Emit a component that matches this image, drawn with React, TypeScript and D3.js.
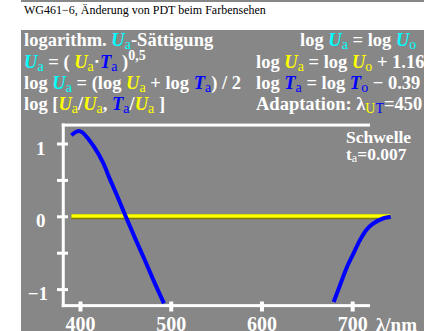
import React from "react";
import * as d3 from "d3";

// blue curve, short-wave branch
const lamLeft = [390, 394, 398, 402, 408, 415, 425, 433, 440, 450, 460, 470, 480, 492];
const valLeft = [1.12, 1.16, 1.18, 1.16, 1.08, 0.96, 0.74, 0.5, 0.3, 0, -0.29, -0.57, -0.86, -1.19];
// blue curve, long-wave branch
const lamRight = [679, 686, 693, 701, 708, 715, 723, 734, 742];
const valRight = [-1.17, -0.94, -0.71, -0.5, -0.32, -0.18, -0.09, -0.02, 0.0];
// yellow reference line
const lamYellow = [390, 742];
const valYellow = [0, 0];

const xTicks = [400, 500, 600, 700];
const yTicks = [-1, -0.5, 0, 0.5, 1];
const yLabels = [1, 0, -1];
const xFrame = [381, 719];
const yFrame = [1.26, -1.22];

const W = 424;
const H = 331;
const grey = "#878787";
const CY = "#00ffff";
const YE = "#ffff00";
const BL = "#0000ff";

const x = d3.scaleLinear().domain([400, 700]).range([80.5, 352.7]);
const y = d3.scaleLinear().domain([1, -1]).range([144, 289.6]);

const line = d3
  .line<[number, number]>()
  .x((d) => x(d[0]))
  .y((d) => y(d[1]))
  .curve(d3.curveMonotoneX);

const zip = (a: number[], b: number[]) => a.map((v, i) => [v, b[i]] as [number, number]);

const U = (c: string) => (
  <tspan fill={c} fontStyle="italic">U</tspan>
);
const T = () => (
  <tspan fill={BL} fontStyle="italic">T</tspan>
);
const sub = (t: string, c: string) => (
  <tspan fill={c} fontWeight="normal" fontSize="14" dy="3">{t}</tspan>
);

export default function App() {
  const fx0 = x(xFrame[0]);
  const fx1 = x(xFrame[1]);
  const fyTop = y(yFrame[0]);
  const fyBot = y(yFrame[1]);
  const font = "'Liberation Serif', 'Times New Roman', serif";
  return (
    <svg
      width={W}
      height={H}
      style={{ position: "absolute", left: 0, top: 0, display: "block" }}
      fontFamily={font}
    >
      <rect x={0} y={0} width={W} height={H} fill="#fff" />
      <rect x={21} y={0} width={W - 21} height={2} fill={grey} />
      <text x={24} y={14} fontSize="12" fill="#000">
        WG461−6, Änderung von PDT beim Farbensehen
      </text>
      <rect x={21} y={30} width={W - 21} height={H - 30} fill={grey} />

      {/* frame and ticks */}
      <g fill="#ffffff">
        <rect x={fx0 - 1.5} y={fyTop - 1.5} width={fx1 - fx0 + 1.5} height={3} />
        <rect x={fx0 - 1.5} y={fyBot - 1.5} width={fx1 - fx0 + 1.5} height={3} />
        <rect x={fx0 - 1.5} y={fyTop - 1.5} width={3} height={fyBot - fyTop + 3} />
        {yTicks.map((t) => (
          <rect key={t} x={57} y={y(t) - 1.5} width={11} height={3} />
        ))}
        {xTicks.map((t) => (
          <rect key={t} x={x(t) - 2} y={301.5} width={4} height={10} />
        ))}
      </g>

      <g fontWeight="bold" fontSize="18.5" fill="#fff">
        <text x={24} y={46}>
          logarithm. {U(CY)}{sub("a", CY)}<tspan dy="-3">-Sättigung</tspan>
        </text>
        <text x={24} y={68}>
          {U(CY)}{sub("a", CY)}<tspan dy="-3"> = ( </tspan>{U(YE)}{sub("a", YE)}
          <tspan dy="-3">·</tspan>{T()}{sub("a", BL)}<tspan dy="-3"> )</tspan>
          <tspan dy="-8" fontSize="14">0,5</tspan>
        </text>
        <text x={24} y={89}>
          log {U(CY)}{sub("a", CY)}<tspan dy="-3"> = (log </tspan>{U(YE)}{sub("a", YE)}
          <tspan dy="-3"> + log </tspan>{T()}{sub("a", BL)}<tspan dy="-3">) / 2</tspan>
        </text>
        <text x={24} y={110}>
          log [{U(YE)}{sub("a", YE)}<tspan dy="-3">/</tspan>{U(YE)}{sub("a", YE)}
          <tspan dy="-3">, </tspan>{T()}{sub("a", BL)}<tspan dy="-3">/</tspan>{U(YE)}
          {sub("a", YE)}<tspan dy="-3"> ]</tspan>
        </text>

        <text x={300} y={46}>
          log {U(CY)}{sub("a", CY)}<tspan dy="-3"> = log </tspan>{U(CY)}{sub("o", CY)}
        </text>
        <text x={256} y={68}>
          log {U(YE)}{sub("a", YE)}<tspan dy="-3"> = log </tspan>{U(YE)}{sub("o", YE)}
          <tspan dy="-3"> + 1.16</tspan>
        </text>
        <text x={256} y={89}>
          log {T()}{sub("a", BL)}<tspan dy="-3"> = log </tspan>{T()}{sub("o", BL)}
          <tspan dy="-3"> − 0.39</tspan>
        </text>
        <text x={256} y={110}>
          Adaptation: λ{sub("U", YE)}
          <tspan fill={BL} fontWeight="normal" fontSize="14">T</tspan>
          <tspan dy="-3">=450</tspan>
        </text>
      </g>

      <g fontWeight="bold" fontSize="19" fill="#fff">
        {yLabels.map((t) => (
          <text key={t} x={t < 0 ? 48 : 45.5} y={y(t) + 10.5} textAnchor="end">
            {t < 0 ? "−" + Math.abs(t) : t}
          </text>
        ))}
      </g>
      <g fontWeight="bold" fontSize="20" fill="#fff">
        {xTicks.map((t) => (
          <text key={t} x={x(t)} y={331} textAnchor="middle">
            {t}
          </text>
        ))}
        <text x={376} y={331} fontSize="19">λ/nm</text>
      </g>

      <g fontWeight="bold" fontSize="17.5" fill="#fff">
        <text x={346} y={143}>Schwelle</text>
        <text x={346} y={160}>
          t<tspan fontWeight="normal" fontSize="12" dy="2">a</tspan>
          <tspan dy="-2">=0.007</tspan>
        </text>
      </g>

      {/* yellow line with olive edge */}
      <path d={line(zip(lamYellow, valYellow)) ?? ""} stroke="#7a7a00" strokeWidth={5} fill="none" />
      <path
        d={line(zip(lamYellow, valYellow)) ?? ""}
        stroke={YE}
        strokeWidth={3.5}
        fill="none"
        transform="translate(0,-0.7)"
      />

      {/* blue curve */}
      <path d={line(zip(lamLeft, valLeft)) ?? ""} stroke={BL} strokeWidth={4} fill="none" strokeLinejoin="round" />
      <path d={line(zip(lamRight, valRight)) ?? ""} stroke={BL} strokeWidth={4} fill="none" strokeLinejoin="round" />
    </svg>
  );
}
